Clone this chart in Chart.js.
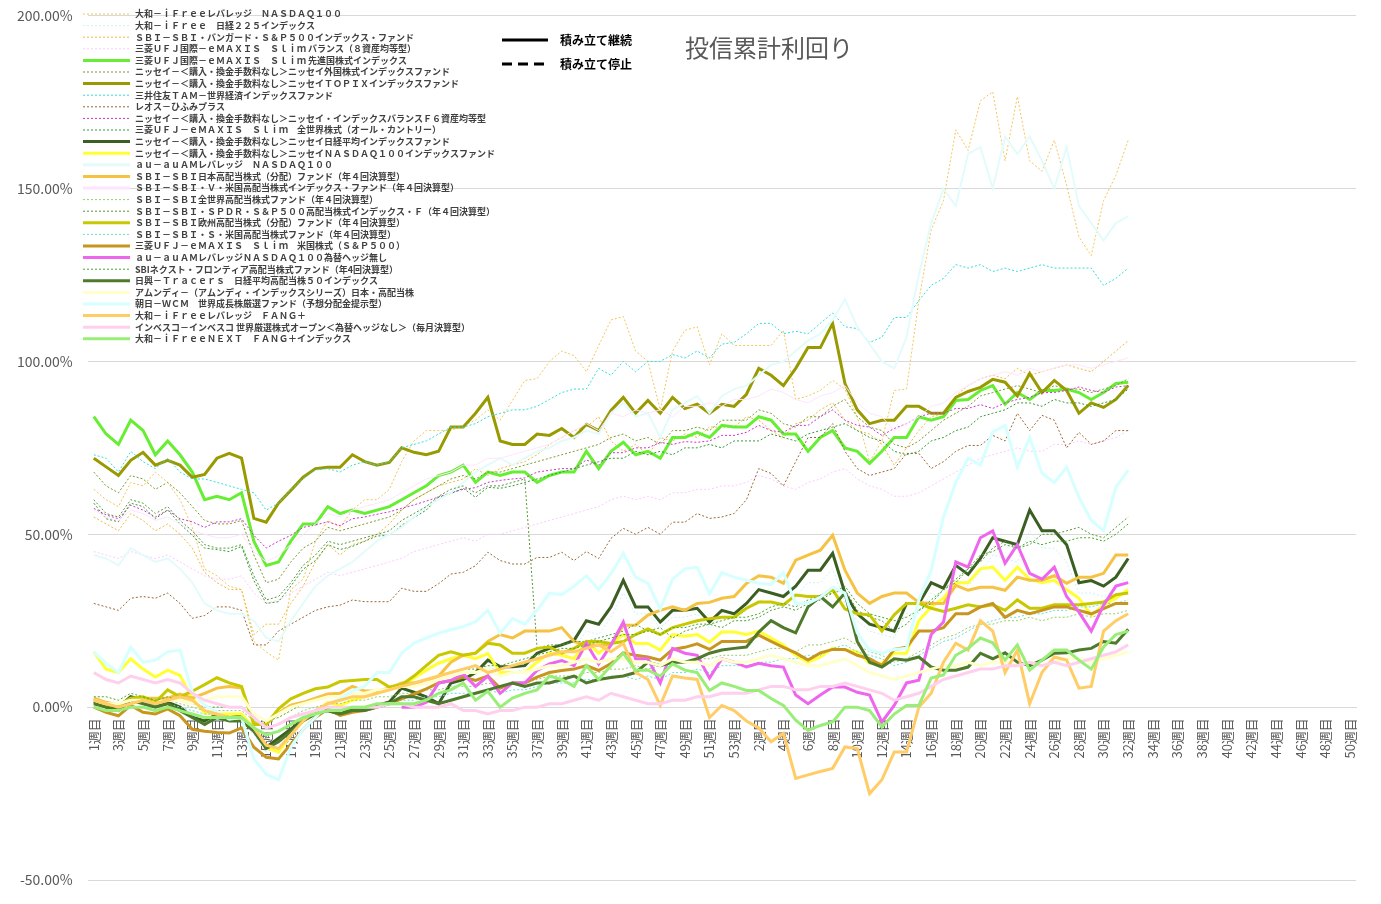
<!DOCTYPE html>
<html><head><meta charset="utf-8">
<script src="https://cdn.jsdelivr.net/npm/chart.js@4"></script>
<style>html,body{margin:0;padding:0;background:#fff}#wrap{width:1381px;height:904px}</style>
</head><body><div id="wrap"><canvas id="c"></canvas></div>
<script>
const weeks1 = Array.from({length:53},(_,i)=>(i+1)+'週目');
const weeks2 = Array.from({length:50},(_,i)=>(i+1)+'週目');
const categories = weeks1.concat(weeks2);
const yTicks = [-50,0,50,100,150,200];

const names = [
'大和－ｉＦｒｅｅレバレッジ　ＮＡＳＤＡＱ１００',
'大和－ｉＦｒｅｅ　日経２２５インデックス',
'ＳＢＩ－ＳＢＩ・バンガード・Ｓ＆Ｐ５００インデックス・ファンド',
'三菱ＵＦＪ国際－ｅＭＡＸＩＳ　Ｓｌｉｍ バランス（８資産均等型）',
'三菱ＵＦＪ国際－ｅＭＡＸＩＳ　Ｓｌｉｍ 先進国株式インデックス',
'ニッセイ－＜購入・換金手数料なし＞ニッセイ外国株式インデックスファンド',
'ニッセイ－＜購入・換金手数料なし＞ニッセイＴＯＰＩＸインデックスファンド',
'三井住友ＴＡＭ－世界経済インデックスファンド',
'レオス－ひふみプラス',
'ニッセイ－＜購入・換金手数料なし＞ニッセイ・インデックスバランスＦ６資産均等型',
'三菱ＵＦＪ－ｅＭＡＸＩＳ　Ｓｌｉｍ　全世界株式（オール・カントリー）',
'ニッセイ－＜購入・換金手数料なし＞ニッセイ日経平均インデックスファンド',
'ニッセイ－＜購入・換金手数料なし＞ニッセイＮＡＳＤＡＱ１００インデックスファンド',
'ａｕ－ａｕＡＭレバレッジ　ＮＡＳＤＡＱ１００',
'ＳＢＩ－ＳＢＩ日本高配当株式（分配）ファンド（年４回決算型）',
'ＳＢＩ－ＳＢＩ・Ｖ・米国高配当株式インデックス・ファンド（年４回決算型）',
'ＳＢＩ－ＳＢＩ全世界高配当株式ファンド（年４回決算型）',
'ＳＢＩ－ＳＢＩ・ＳＰＤＲ・Ｓ＆Ｐ５００高配当株式インデックス・Ｆ（年４回決算型）',
'ＳＢＩ－ＳＢＩ欧州高配当株式（分配）ファンド（年４回決算型）',
'ＳＢＩ－ＳＢＩ・Ｓ・米国高配当株式ファンド（年４回決算型）',
'三菱ＵＦＪ－ｅＭＡＸＩＳ　Ｓｌｉｍ　米国株式（Ｓ＆Ｐ５００）',
'ａｕ－ａｕＡＭレバレッジＮＡＳＤＡＱ１００為替ヘッジ無し',
'SBIネクスト・フロンティア高配当株式ファンド（年4回決算型）',
'日興－Ｔｒａｃｅｒｓ　日経平均高配当株５０インデックス',
'アムンディ－（アムンディ・インデックスシリーズ）日本・高配当株',
'朝日－ＷＣＭ　世界成長株厳選ファンド（予想分配金提示型）',
'大和－ｉＦｒｅｅレバレッジ　ＦＡＮＧ＋',
'インベスコ－インベスコ 世界厳選株式オープン＜為替ヘッジなし＞（毎月決算型）',
'大和－ｉＦｒｅｅＮＥＸＴ　ＦＡＮＧ＋インデックス'
];

const iFreeLevNasdaq = [63,60,58,65,64,68,65,60,52,40,38,35,34,19,16,13.6,34,37,48,54,52,57,60,60,63,71,77,80,80,80,81.5,83,86,83,88.7,94.5,95,100,103,101.7,97,104.6,112,113,103,100,86,103,109,110,99,108,104.6,104.6,104.6,104.6,109,89,90,91.6,94.5,92,84,71,77,91.6,92,117.6,138,146.5,167,161,175.4,178,158,176.6,158,155,164,151,136,130.6,146.5,153.8,164];
const iFree225 = [1,0,-1,2,1,0,1,-1,-3,-5,-3,-4,-4,-8,-13,-11,-7,-4,-2,-1,-2,-1,-1,0,1,5,4,3,1,6,7,9,12,10,10,11,14,15,16,17,22,21,26,33,27,27,23,26,26,27,23,26,25,28,31,30,29,32,36,36,40,30,25,22,21,20,27,27,33,31,37,35,39,44,43,42,51,46,46,42,33,33,32,34,39];
const sbiVanguard = [55,53,51,56,54,51,53,50,46,39,36,34,34,21,24,24,30,35,42,47,44,47,48,50,53,57,60,62,64,65,66,69,67,69,70,71,73,76,78,80,81,84,77,74,76,73,78,77,79,78,81,81,81,84,83,80,78,82,83,86,88,83,80,79,76,70,75,80,84,85,90,93,95,96,95,98,96,97,98,99,98,97,100,103,106];
const balance8 = [45,44,43,45,44,43,44,42,40,38,37,37,38,33,30,31,33,35,37,39,38,39,40,41,42,43,45,46,47,48,49,48,50,50,51,52,53,54,55,56,57,58,60,61,60,61,60,62,62,63,63,64,64,65,67,66,64,63,65,66,68,69,66,64,63,61,61,62,64,66,68,70,72,73,74,75,74,74,76,76,77,76,77,78,80];
const developed = [84,79,76,83,80,73,77,73,68,60,61,60,62,48,41,42,48,53,53,58,56,57,56,57,58,60,62,64,67,68,70,65,68,67,68,68,65,67,68,68,74,69,74,76.6,73,74,72,78,78,79.5,78,81.5,81,81,84,83,79,79,74,78,80,75,74,70.5,74,78,78,84,83,84,88.7,89,91.6,93,87.6,91,89,91.6,91.6,92,91,89,91,93.6,94];
const foreignStock = [68,64,62,67,66,63,65,62,58,54,53,53,54,44,36,37,42,46,48,52,51,52,53,54,55,57,60,62,64,66,67,66,68,68,69,70,71,72,73,74,75,76,78,79,77,78,76,80,80,81,80,83,83,83,86,85,82,81,84,84,87,89,84,81,80,76,75,77,80,83,85,87,90,91,92,93,92,91,93,92,92,91,92,93,95];
const topix = [72,69.5,67,71.4,73.7,70,71.4,70,66.5,67.3,72,73.4,72,54.6,53.5,59,62.7,66.5,69,69.4,69.4,73,71,70,70.8,75,73.7,73,74,81,81,85,89.6,77,76,76,79,78.6,80.6,78,81.8,80,85.8,89.6,85,88.7,85,89.6,86.4,87.6,85,87.6,87,90.5,98,96,93,98,104,104,111,93.6,86,82,83,83,87,87,85,85,89.6,91.3,92.5,94.8,94,90,96.5,91,94.5,91.6,85,88,86.7,89,93];
const smtam = [73,72,68,74,71,69,72,68,66,66,65,64,63,62,57,59,63,66,68.6,69,68,70,71,70,71,75,76,77,79,81,81,82,84,85,86,86,87,89,91,92,92,98,96,100,97,100,100,102,101,103,101,105,105.5,108,111,111,108,108.7,108,111,114,110,109.5,105.5,107,112.7,112.7,117.6,122,124,128,127,128,126,127,126,127,128,127,127,127,127,122,124,127];
const hifumi = [30,29,28,31.5,32,31.5,33,30,25.7,26.5,29,29,28,18,18,22,24,26,28,29,29.5,31,30.5,30.5,30.5,34.4,33.5,33.5,35.7,38.5,39,40.9,44.8,42.4,41.4,41.4,43.3,43.3,44.8,42.4,45,43,48.8,51.7,50,52,50,53.5,53.5,56,54.6,55,56,60,69,67.6,64,71,78,78,82,74,69,67,68,69,73.4,73.4,69,71,74,75.7,75.7,78.6,77,85,80,84.4,83,75,79.5,76,77,80,80];
const f6 = [57.5,55.6,54.5,58.4,57,55,57,54.5,53.6,52,53.6,53.6,54.5,49.7,46,48,49.7,52,52.7,53.6,52.5,54.5,55,55.8,56.5,57.5,58.5,59.6,60.8,62,63,63.5,65,65.6,66,66.3,68,68.5,69,69,71.5,70,73.6,73.6,75,75,76.6,76,76.8,76.6,77,78.6,78.6,79.5,81.5,80,79.5,81.5,81.5,84,86,83,81.5,81,78.6,80.6,82,84,85,85,86.4,86.4,87.5,86.4,88,89,89.6,91,91,91.6,92.6,91.6,91,92.6,93];
const allCountry = [59,54.5,53.6,59,58,54.5,57,53,49.7,46,45.6,45,46.5,36.6,30,30.5,35,39.9,42.4,47,45.6,46.5,48,49.5,49.7,52.6,54.8,57,60.7,61.8,63.3,60.7,63.6,63.3,64,65,66,67,68,69,70,71,72,72,74,73,74,73,75,75,76,75,77,77,77,79,78,77,79,80,81,82,80,78,77,74,73,74,77,78,80,81,84,85,86,88,88,87,89,88,88,87,88,89,92];
const nikkei = [1.5,0,0,3,2,0.8,1.4,0,-2.9,-4,-2,-3,-2.5,-6,-11.6,-9,-6.4,-3.5,-1.5,-1,-2,-0.5,-0.5,0.5,1.5,5.5,4.3,3,1,7,8,10,13.6,11.7,11.7,12,15.6,17,18,19.3,25,24,29,36.7,29,29,24.6,28,28,28.6,24.6,28,27,30,34,33,32,35,39.6,39.6,44.5,33,27,24,23,22,30,30,36,34.4,41,38.4,43,49,48,47,57,51,51,47,36,36.6,35,37.6,43];
const nasdaq100 = [16,11,10,14,11,8.7,10.7,9.2,2.6,-1.7,-2,-2,-2,-6,-11.6,-13,-8,-3.5,-1.5,1.4,0.5,2,3,4,5,6,8.4,10.7,12.7,14,15,14,15.5,10,10,10,13,15.6,15,14,19,15.6,18.4,21,18.4,18.4,16.5,21,20.5,21,18.8,21.7,21.7,21,22,20,18,15,13,14.5,17,16.5,16,12.7,12.7,15.6,15.6,25,29,31.5,36,36,40,40.5,36.7,40.5,37,36,36.7,34,31.5,26.6,29.5,31.5,34];
const auLevNasdaq = [44,43,41,46,44,42,43,40,36,30,28,27,27,25,20,19,25,30,35,38,40,42,45,48,50,52,55,58,60,62,65,68,70,72,70,72,74,75,77,78,80,79,85,88,84,85,78,86,88,90,85,90,92,93,96,99,100,103,106,108,112,118,110,105,100,98,107,125,140,150,145,160,162,150,165,160,165,158,150,162,145,140,135,140,142];
const sbiJapanDiv = [2.6,1.4,0.6,2,2.6,2.6,2.6,3.8,2.6,4,5.5,6,5.5,-4.6,-5,-1.7,0.6,1.4,2.6,3.8,4,6,4.7,4.7,5.5,7,7,7,9,13,15,15.6,19,21,20,22,22,22,23,19,18,18,18,23.7,23.7,26.6,28,29,28,30,30.3,31.5,32,35.8,38,37.6,35.8,42.5,44,45.4,49.7,39.6,33,30,32,33,33,30.3,30,30,35.2,33.8,34.7,34.7,33.8,37.6,36.7,36.7,38,35.8,37.6,37.6,38.7,44,44];
const sbiVUsDiv = [57,55,54,57,56,54,55,53,51,50,49,49,50,45,42,44,47,50,53,56,55,57,58,59,60,62,64,66,67,68,70,70,72,72,73,74,75,76,78,80,82,80,85,84,86,85,86,84,87,87,88,87,89,89,90,92,91,89,88,90,91,93,88,85,84,80,82,84,87,88,91,93,95,96,97,96,98,97,98,99,99,98,99,100,101];
const sbiWorldDiv = [2,1,1,2,2,1,2,1,0,-1,-1,-1,-1,-4,-6,-5,-3,-1,0,1,1,2,2,3,3,4,4,5,5,6,6,6,7,6,7,7,8,9,9,9,10,10,11,11,12,11,12,13,13,14,14,15,15,15,16,17,17,16,18,18,19,20,18,16,15,13,14,16,18,20,21,23,24,24,25,25,26,25,26,26,27,26,27,27,28];
const sbiSpdr = [60,56,55,60,59,56,58,54,51,47,46,46,47,38,31,32,36,41,44,48,47,48,49,50,51,54,56,58,61,63,64,62,64,64,65,66,17,18,18,19,19,20,21,22,24,22,23,20,22,23,24,23,25,25,26,28,29,28,30,31,33,34,28,26,25,22,24,28,30,34,36,40,42,46,48,46,47,50,50,51,52,50,49,52,55];
const sbiEurope = [2,0.6,0.6,2.6,3,1.5,5,3,4.6,6.5,8.5,7,6,-5,-5,-0.5,2.4,4,5.3,5.8,7.4,7.7,8,8,5.8,6.5,9,12,15,16,15,15.6,18.5,18,15.6,15.6,17,17.4,15.6,17,19,19,18.4,19,21,22.6,21,23,24,25,25.6,26,26,28.6,30.4,30.4,29.6,32.4,32,32,34,28.4,27,26.7,22,26.7,30,30,28.6,27.7,28.6,29.6,29,29.6,28,31,28.6,28.6,29.6,29.6,29.6,30,30.4,32.5,33];
const sbiSUsDiv = [2,1,0,2,1,0,1,0,-1,-2,-2,-3,-3,-6,-8,-7,-5,-3,-2,-1,-1,0,0,1,1,2,2,3,3,4,4,4,5,4,5,5,6,7,7,7,8,8,9,9,8,9,8,10,10,11,10,12,12,12,13,13,14,14,15,15,17,18,16,15,14,12,13,15,17,19,20,22,24,25,26,26,27,27,28,28,29,29,30,30,31];
const sp500 = [0,-1.5,-2.5,0.5,-1.5,-2,-0.5,-2.5,-6.4,-7,-7.3,-7.5,-6,-11.6,-14.5,-15,-10.7,-6.4,-3,-0.5,-2.4,-1.5,-1,0,1,2.4,3.8,5.3,7,7.7,8.7,7.7,9,5.5,7,7,8.7,10,10.6,11,12,10.6,12.6,15.7,15,14.5,13.6,16.7,17.3,18.3,16.7,19,19,19,20.8,19,17.3,15.7,13.6,15.7,16.7,16.7,15,14,12,16.7,17.3,22,22,23,27,27,29,30,26,28,27,28,29,29,28,27,28.5,30,30];
const auLevHedge = [null,null,null,null,null,null,null,null,null,null,null,null,null,null,null,null,null,null,null,null,null,null,null,null,null,0,0,1.4,7,7.7,9.6,6,9,4,7,7,10.6,12.5,13.5,12,18.5,12.5,18,24.6,14,14,7,17,15.6,15,8.4,14,13,11.6,12.7,12,11.6,3.5,1,3.5,5.8,5.8,4.3,3.5,-4.3,0.5,7,7.8,21,24.6,42,40.5,49,51,41.6,47,38.7,37,40.5,32,27.5,22,29.5,35,36];
const sbiFrontier = [3,3,2,4,3,2,3,2,1,0,0,0,0,-2,-4,-3,-1,1,2,3,3,4,4,5,5,6,7,8,9,10,11,11,12,12,13,14,15,16,17,17,18,19,20,21,21,22,21,23,23,24,24,25,26,26,27,29,30,29,31,32,33,35,30,27,26,25,26,28,31,34,37,40,44,45,47,46,48,47,48,48,49,49,48,50,53];
const tracers = [1,0,-1,2,1,0,1,-1,-3,-5,-3,-4,-4,-7,-12,-10,-7,-4,-2,-1,-2,-1,-1,0,1,3,3,2,1,2,3,4,5,6,7,6,7,7,8,9,7,8,8.6,9,10,13,12,13,13,14,15.6,16.5,17,17.4,21.7,25,23,21.5,29,32,29,33,19,13,11.6,14,13.6,14.5,11.6,10.7,10.7,11.6,15.6,14,15.7,13,12,13.6,15.6,15.7,16.5,17,19,18.5,22.5];
const amundi = [2,1,1,2,2,1,2,2,1,2,3,3,3,-2,-4,-2,0,1,2,3,3,4,4,5,5,6,6,7,8,9,10,10,11,9,10,10,11,12,12,13,14,13,14,14,13,13,12,14,13,13,12,14,13,13,14,15,14,13,12,12,13,14,12,10,9,8,9,10,11,12,12,13,12,13,13,12,13,12,13,14,14,13,14,15,16];
const wcm = [16,12.6,10,17.4,13,13.6,16,16.5,4.4,0.5,-1.5,-3.5,-3,-15,-19.4,-21,-11.6,-6.4,-3,1,2.4,4.7,6,10,10,15.6,18.5,20,21.4,22.4,23.3,24.7,28,21.4,25.6,24,28,33,32.5,35,38,34,38.6,44.5,37.6,35.8,28.4,37,40,40.5,32.8,38.9,37.6,36.7,35.8,35.5,38.9,30,30,31.8,34.7,33,21.5,16.5,15.6,16.7,17,31,39.6,55,65,72,70,79.6,81.5,69.4,78,67.6,65,69.4,60.7,54,51,63.6,68.5];
const levFang = [2,1,0,1,2,1,2,3,2,-1,-2,-3,-3,-6,-11,-12,-8,-4,-1,1,2,3,3,4,5,6,7,8,9,10,11,12,10,11,12,13,14,15,16,16,17,18,16,18.5,10,8,0.5,9,8.4,8,-3,0.5,-1,-4,-6,-10,-7.6,-20.6,-19.6,-18.6,-17.7,-11.5,-12,-25,-21,-13,-13,0,4,13,18.5,16.5,25,22,10,16.5,1,10,14.5,13.6,5.5,6,22,25,27];
const invesco = [10,8,7,9,8,7,8,7,4,2,1,0,0,-3,-6,-5,-3,-2,-1,0,0,0,0,0,1,1,0,0,0,1,-1,-1,-2,-1,-1,0,0,1,1,2,3,2,4,3,2,1,1,2,2,3,3,4,4,4,5,6,6,5,5,6,6,7,6,5,4,2,3,4,6,8,9,10,11,11,12,12,13,12,13,12,13,14,15,16,18];
const nextFang = [0,-1,-1,0,0,-1,0,-1,-2,-3,-3,-3,-3,-6,-8,-7,-5,-3,-2,-1,-1,0,0,1,1,1,1,2,4,5,7,2,4.6,0,2.6,4,5,9,8,6,12,8,12,15.6,10.7,10.7,9,12.5,10.7,10,4.8,7,6,4.8,4.8,2.5,0.5,-3.8,-6.7,-5.3,-4.3,0,0,-1,-5.7,-2,0.5,0.5,8.4,9.3,15,17,20,18.6,13.6,18,10.7,13.6,16.5,16.5,13.6,11,17.4,21,22];

const seriesValues = [iFreeLevNasdaq,iFree225,sbiVanguard,balance8,developed,foreignStock,topix,smtam,hifumi,f6,allCountry,nikkei,nasdaq100,auLevNasdaq,sbiJapanDiv,sbiVUsDiv,sbiWorldDiv,sbiSpdr,sbiEurope,sbiSUsDiv,sp500,auLevHedge,sbiFrontier,tracers,amundi,wcm,levFang,invesco,nextFang];
const styles = [
['#f2c65a',1,true],['#c8f4f4',1,true],['#f0b840',1,true],['#ffc8ff',1,true],['#66ee33',3,false],
['#7a9a2a',1,true],['#999900',3,false],['#33dddd',1,true],['#996633',1,true],['#cc33cc',1,true],
['#339933',1,true],['#3b5e22',3,false],['#ffff33',3,false],['#e4fbfb',2,false],['#f5c242',3,false],
['#ffe4ff',1,false],['#99cc66',1,true],['#559933',1,true],['#c8c800',3,false],['#66dddd',1,true],
['#c8961e',3,false],['#ee66ee',3,false],['#44aa22',1,true],['#4f7a2c',3,false],['#ffffcc',3,false],
['#d6ffff',3,false],['#ffcc66',3,false],['#ffd0ee',3,false],['#99ee77',3,false]
];
const N = names.length;
const datasets = names.map((n,i)=>({
  label:n, data:seriesValues[i].slice(0,85),
  borderColor:styles[i][0], backgroundColor:styles[i][0],
  borderWidth: styles[i][1], borderDash: styles[i][2]?[2,2]:[],
  pointRadius:0, tension:0, fill:false, spanGaps:false, order:N-i
}));

const overlay = {
  id:'overlay',
  afterDraw(chart){
    const ctx = chart.ctx;
    ctx.save();
    ctx.font = 'bold 9px "Noto Sans CJK JP"';
    ctx.textBaseline = 'middle';
    names.forEach((n,i)=>{
      const y = 14 + i*11.6;
      ctx.strokeStyle = styles[i][0];
      ctx.lineWidth = styles[i][2]?1:3;
      ctx.setLineDash(styles[i][2]?[2,2]:[]);
      ctx.beginPath(); ctx.moveTo(83,y); ctx.lineTo(130,y); ctx.stroke();
      ctx.setLineDash([]);
      ctx.fillStyle = '#404040';
      ctx.fillText(n,135,y);
    });
    ctx.strokeStyle = '#000'; ctx.lineWidth = 3;
    ctx.beginPath(); ctx.moveTo(502,40); ctx.lineTo(548,40); ctx.stroke();
    ctx.setLineDash([10,6]);
    ctx.beginPath(); ctx.moveTo(502,64); ctx.lineTo(548,64); ctx.stroke();
    ctx.setLineDash([]);
    ctx.fillStyle = '#000';
    ctx.font = 'bold 12px "Noto Sans CJK JP"';
    ctx.fillText('積み立て継続',560,40);
    ctx.fillText('積み立て停止',560,64);
    ctx.fillStyle = '#595959';
    ctx.font = '24px "Noto Sans CJK JP"';
    ctx.fillText('投信累計利回り',685,48);
    ctx.restore();
  }
};

new Chart(document.getElementById('c'),{
  type:'line',
  data:{labels:categories, datasets},
  options:{
    responsive:true, maintainAspectRatio:false, animation:false,
    layout:{padding:{left:2,top:15,right:25,bottom:24}},
    plugins:{legend:{display:false},tooltip:{enabled:false}},
    scales:{
      x:{
        position:{y:0}, offset:true,
        grid:{display:false}, border:{color:'#d9d9d9'},
        ticks:{autoSkip:false,minRotation:90,maxRotation:90,color:'#595959',
          font:{size:13,family:'"Noto Sans CJK JP"'},
          callback:(v,i)=> i%2===0 ? categories[i] : ''}
      },
      y:{
        min:yTicks[0], max:yTicks[yTicks.length-1],
        afterBuildTicks:(s)=>{s.ticks=yTicks.map(v=>({value:v}));},
        grid:{color:'#d9d9d9',drawTicks:false}, border:{display:false},
        ticks:{padding:15,color:'#595959',font:{size:14,lineHeight:0.1,family:'"Noto Sans CJK JP"'},
          callback:v=>v.toFixed(2)+'%'}
      }
    }
  },
  plugins:[overlay]
});
</script></body></html>
